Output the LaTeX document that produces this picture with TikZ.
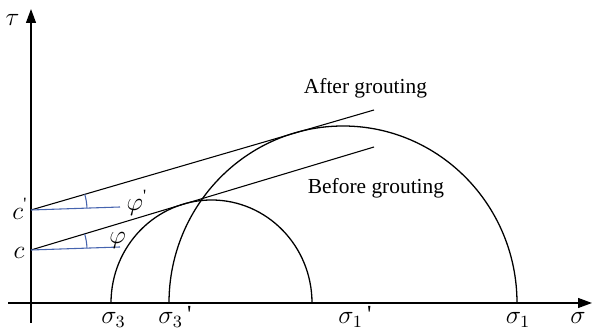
\documentclass[tikz,border=0pt]{standalone}
\usepackage{fontspec}
\setmainfont{Liberation Serif}
\usetikzlibrary{arrows.meta}
\definecolor{angblue}{RGB}{70,100,175}
\newcommand{\tq}{\,\raisebox{0.5pt}{\textquotesingle}}

\begin{document}
\begin{tikzpicture}[x=0.467pt,y=0.467pt,>={Triangle[length=6.5pt,width=4.6pt]},
  axis/.style={line width=0.7pt},
  mohr/.style={line width=0.6pt},
  env/.style={line width=0.5pt},
  ang/.style={draw=angblue,line width=0.5pt},
  lab/.style={font=\fontsize{10}{12}\selectfont,inner sep=0pt},
  sym/.style={font=\fontsize{11.5}{13}\selectfont,inner sep=0pt},
  tick/.style={sym,anchor=base}]
\useasboundingbox (-31,-27) rectangle (563,303);
\coordinate (O) at (0,0);
\coordinate (Cq) at (0,93);
\coordinate (Cp) at (0,53);
\coordinate (Eq) at (343,193);
\coordinate (Ep) at (343,156);
\coordinate (Bq) at (89,96);
\coordinate (Bp) at (89,56);
% axes
\draw[axis,->] (-23,0) -- (561,0);
\draw[axis,->] (0,-20) -- (0,294);
\node[sym] (tau) at (-18.5,283) {$\tau$};
\node[tick] (sig) at (547,-21) {$\sigma$};
% Mohr circles
\draw[mohr] (80,0) arc[start angle=180,end angle=0,x radius=100.5,y radius=103];
\draw[mohr] (138,0) arc[start angle=180,end angle=0,x radius=174,y radius=177];
\node[tick] (s3) at (82.5,-21) {$\sigma_3$};
\node[tick] (s3q) at (144,-21) {$\sigma_3$\tq};
\node[tick] (s1q) at (324,-21) {$\sigma_1$\tq};
\node[tick] (s1) at (487,-21) {$\sigma_1$};
% strength envelopes
\draw[env] (Cq) -- (Eq);
\draw[env] (Cp) -- (Ep);
\draw[ang] (Cq) -- (Bq);
\draw[ang] (Cp) -- (Bp);
\draw[ang] (Cq) ++(1.9:56) arc[start angle=1.9,end angle=16.3,radius=56];
\draw[ang] (Cp) ++(1.9:56) arc[start angle=1.9,end angle=16.8,radius=56];
\node[sym] (cq) at (-11,94) {$c$\textsuperscript{\textquotesingle}};
\node[sym] (cp) at (-12,50.5) {$c$};
\node[sym] (phq) at (106,100) {$\varphi$\textsuperscript{\textquotesingle}};
\node[sym] (php) at (86.5,63) {$\varphi$};
\node[lab] (after) at (334.5,215) {After grouting};
\node[lab] (before) at (345,115) {Before grouting};
\end{tikzpicture}
\end{document}
